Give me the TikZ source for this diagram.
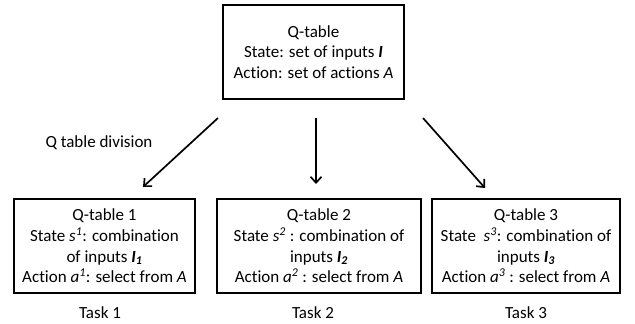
\documentclass[tikz,border=0pt]{standalone}
\usepackage{fontspec}
\setmainfont[Ligatures=NoCommon]{Carlito}
\usetikzlibrary{arrows.meta}
\begin{document}
\begin{tikzpicture}[x=1pt,y=-1pt,
  qbox/.style={draw,line width=1.7pt,align=center,inner sep=0pt,minimum height=94pt,font=\fontsize{17}{20.7}\selectfont},
  lbl/.style={font=\fontsize{17}{20}\selectfont,inner sep=0pt},
  arr/.style={line width=1.7pt,-{Straight Barb[length=6pt,width=11pt,line width=1.7pt]}}]
\useasboundingbox (0,0) rectangle (635,324);
\node[qbox,minimum width=181pt] (top) at (313.5,52) {Q-table\\State: set of inputs \textbf{\textit{I}}\\Action: set of actions \textit{A}};
\node[qbox,minimum width=181pt] (t1) at (104.5,246) {Q-table 1\\State \textit{s}\textsuperscript{\textit{1}}: combination\\of inputs \textbf{\textit{I\textsubscript{1}}}\\Action \textit{a}\textsuperscript{\textit{1}}: select from \textit{A}};
\node[qbox,minimum width=204pt] (t2) at (319,246) {Q-table 2\\State \textit{s}\textsuperscript{\textit{2}} : combination of\\inputs \textbf{\textit{I\textsubscript{2}}}\\Action \textit{a}\textsuperscript{\textit{2}} : select from \textit{A}};
\node[qbox,minimum width=188pt] (t3) at (526,246) {Q-table 3\\State \ \textit{s}\textsuperscript{\textit{3}}: combination of\\inputs \textbf{\textit{I\textsubscript{3}}}\\Action \textit{a}\textsuperscript{\textit{3}} : select from \textit{A}};
\node[lbl] (k1) at (100,313) {Task 1};
\node[lbl] (k2) at (313,313) {Task 2};
\node[lbl] (k3) at (526,313) {Task 3};
\node[lbl] (div) at (99,143) {Q table division};
\coordinate (s1) at (218,118);
\coordinate (e1) at (143,187);
\coordinate (s2) at (316,118);
\coordinate (e2) at (316,184);
\coordinate (s3) at (423,118);
\coordinate (e3) at (485,188);
\draw[arr] (s1) -- (e1);
\draw[arr] (s2) -- (e2);
\draw[arr] (s3) -- (e3);
\end{tikzpicture}
\end{document}
